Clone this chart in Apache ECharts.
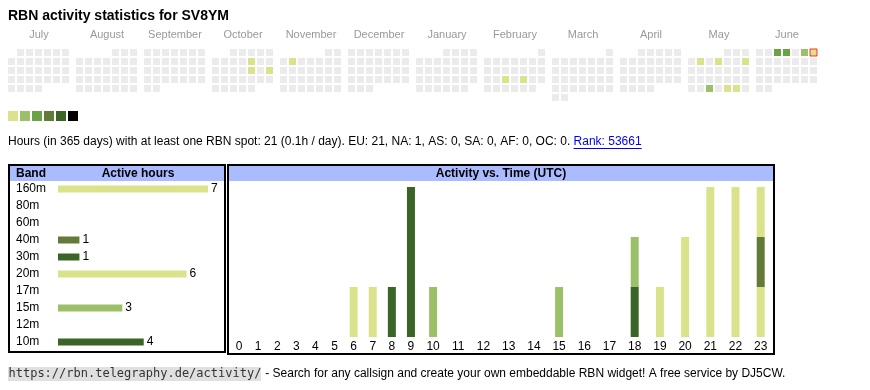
<!DOCTYPE html>
<html><head><meta charset="utf-8">
<script src="https://cdn.jsdelivr.net/npm/echarts@6/dist/echarts.min.js"></script>
<style>html,body{margin:0;padding:0;background:#fff}#c{width:870px;height:390px}</style>
</head><body><div id="c"></div>
<script>
// ---------- data ----------
const monthRanges = ['2024-07','2024-08','2024-09','2024-10','2024-11','2024-12','2025-01','2025-02','2025-03','2025-04','2025-05','2025-06'];
const monthLabels = ['July','August','September','October','November','December','January','February','March','April','May','June'];
const activeDays = ['2024-10-10','2024-10-17','2024-10-19','2024-11-04','2025-02-18','2025-02-20','2025-05-05','2025-05-07','2025-05-10','2025-05-27','2025-05-29','2025-05-30','2025-06-03','2025-06-04','2025-06-06','2025-06-07'];
const activeDayHours = [1,1,1,1,1,1,1,1,1,2,1,1,3,3,2,1];
const todayDate = '2025-06-07';
const levelMin = [1,2,3,5,9,17];
const levelMax = [1,2,4,8,16,null];
const levelColors = ['#dae38b','#9cc06a','#6aa245','#637a39','#3a6527','#000000'];

const bands = ['160m','80m','60m','40m','30m','20m','17m','15m','12m','10m'];
const bandHours = [7,0,0,1,1,6,0,3,0,4];
const bandColors = ['#dae38b','#dae38b','#9cc06a','#637a39','#3a6527','#dae38b','#6aa245','#9cc06a','#6aa245','#3a6527'];

const hourLabels = ['0','1','2','3','4','5','6','7','8','9','10','11','12','13','14','15','16','17','18','19','20','21','22','23'];
const hourly160m = [0,0,0,0,0,0,0,0,0,0,0,0,0,0,0,0,0,0,0,1,1,2,2,1];
const hourly80m  = [0,0,0,0,0,0,0,0,0,0,0,0,0,0,0,0,0,0,0,0,0,0,0,0];
const hourly60m  = [0,0,0,0,0,0,0,0,0,0,0,0,0,0,0,0,0,0,0,0,0,0,0,0];
const hourly40m  = [0,0,0,0,0,0,0,0,0,0,0,0,0,0,0,0,0,0,0,0,0,0,0,1];
const hourly30m  = [0,0,0,0,0,0,0,0,0,0,0,0,0,0,0,0,0,0,1,0,0,0,0,0];
const hourly20m  = [0,0,0,0,0,0,1,1,0,0,0,0,0,0,0,0,0,0,0,0,1,1,1,1];
const hourly17m  = [0,0,0,0,0,0,0,0,0,0,0,0,0,0,0,0,0,0,0,0,0,0,0,0];
const hourly15m  = [0,0,0,0,0,0,0,0,0,0,1,0,0,0,0,1,0,0,1,0,0,0,0,0];
const hourly12m  = [0,0,0,0,0,0,0,0,0,0,0,0,0,0,0,0,0,0,0,0,0,0,0,0];
const hourly10m  = [0,0,0,0,0,0,0,0,1,3,0,0,0,0,0,0,0,0,0,0,0,0,0,0];
const hourlyByBand = [hourly160m,hourly80m,hourly60m,hourly40m,hourly30m,hourly20m,hourly17m,hourly15m,hourly12m,hourly10m];

const titleText = 'RBN activity statistics for SV8YM';
const infoText = 'Hours (in 365 days) with at least one RBN spot: 21 (0.1h / day). EU: 21, NA: 1, AS: 0, SA: 0, AF: 0, OC: 0. ';
const rankText = 'Rank: 53661';
const footerUrl = 'https://rbn.telegraphy.de/activity/';
const footerText = ' - Search for any callsign and create your own embeddable RBN widget! A free service by DJ5CW.';

// ---------- layout ----------
const SANS = '"Liberation Sans", Arial, Helvetica, sans-serif';
const MONO = '"DejaVu Sans Mono", "Liberation Mono", monospace';
const calLeft0 = 7, calTop = 48, monthPitch = 68, cell = 9;
const mctx = document.createElement('canvas').getContext('2d');
function tw(font, s){ mctx.font = font; return mctx.measureText(s).width; }

const chart = echarts.init(document.getElementById('c'), null, {renderer:'canvas'});

const calendars = monthRanges.map((m,i)=>({
  orient:'vertical', range:m, left: calLeft0 + monthPitch*i, top: calTop,
  cellSize:[cell,cell], firstDay:1,
  splitLine:{show:false}, dayLabel:{show:false}, monthLabel:{show:false}, yearLabel:{show:false},
  itemStyle:{color:'#ebebeb', borderColor:'#fff', borderWidth:2}
}));

const series = [];
const heatIdx = [];
monthRanges.forEach((m,i)=>{
  const d = [];
  activeDays.forEach((day,k)=>{ if(day.slice(0,7)===m) d.push([day, activeDayHours[k]]); });
  heatIdx.push(series.length);
  series.push({type:'heatmap', coordinateSystem:'calendar', calendarIndex:i, data:d,
    itemStyle:{borderWidth:0}, emphasis:{disabled:true}});
});
series.push({type:'scatter', coordinateSystem:'calendar', calendarIndex:monthRanges.indexOf(todayDate.slice(0,7)),
  data:[[todayDate,1]], symbol:'rect', symbolSize:7, z:5, silent:true,
  itemStyle:{color:'rgba(0,0,0,0)', borderColor:'#ff0000', borderWidth:1}});

// band bars
series.push({type:'bar', xAxisIndex:0, yAxisIndex:0, barWidth:7, silent:true,
  data: bandHours.map((v,i)=>({value:v, itemStyle:{color:bandColors[i]}})),
  label:{show:true, position:'right', distance:3, color:'#000', fontFamily:SANS, fontSize:12,
    formatter:p=>p.value>0?String(p.value):''}});

// hourly stacked bars: two column groups (1-digit hours are narrower columns)
const splitAt = 10;
bands.forEach((b,bi)=>{
  const arr = hourlyByBand[bi];
  series.push({type:'bar', name:b, xAxisIndex:1, yAxisIndex:1, stack:'a', barWidth:8, silent:true,
    itemStyle:{color:bandColors[bi]}, data: arr.slice(0,splitAt).map(v=>v||'-')});
  series.push({type:'bar', name:b, xAxisIndex:2, yAxisIndex:2, stack:'b', barWidth:8, silent:true,
    itemStyle:{color:bandColors[bi]}, data: arr.slice(splitAt).map(v=>v||'-')});
});

const hourAxisBase = {type:'category', axisLine:{show:false}, axisTick:{show:false}, splitLine:{show:false},
  axisLabel:{color:'#000', fontFamily:SANS, fontSize:12, margin:4, interval:0}};
const hiddenVal = (gi,max)=>({type:'value', gridIndex:gi, min:0, max:max, show:false, splitLine:{show:false}});

// graphics
const g = [];
g.push({type:'text', x:8, y:16, style:{text:titleText, font:'bold 14px '+SANS, fill:'#000', verticalAlign:'middle'}});
monthLabels.forEach((t,i)=>{
  g.push({type:'text', x: calLeft0 + monthPitch*i + 1 + 31, y:35, style:{text:t, font:'11px '+SANS, fill:'#999', align:'center', verticalAlign:'middle'}});
});
const infoFont = '12px '+SANS;
const infoW = tw(infoFont, infoText);
const rankW = tw(infoFont, rankText);
g.push({type:'text', x:8, y:142, style:{text:infoText, font:infoFont, fill:'#000', verticalAlign:'middle'}});
g.push({type:'text', x:8+infoW, y:142, style:{text:rankText, font:infoFont, fill:'#0000ee', verticalAlign:'middle'}});
g.push({type:'line', shape:{x1:8+infoW, y1:148.5, x2:8+infoW+rankW, y2:148.5}, style:{stroke:'#0000ee', lineWidth:1}});
// tables
g.push({type:'rect', shape:{x:10, y:166, width:214, height:15}, style:{fill:'#aabbff'}, z:-1});
g.push({type:'rect', shape:{x:229, y:166, width:544, height:15}, style:{fill:'#aabbff'}, z:-1});
g.push({type:'text', x:16, y:173.5, style:{text:'Band', font:'bold 12px '+SANS, fill:'#000', verticalAlign:'middle'}});
g.push({type:'text', x:138, y:173.5, style:{text:'Active hours', font:'bold 12px '+SANS, fill:'#000', align:'center', verticalAlign:'middle'}});
g.push({type:'text', x:501, y:173.5, style:{text:'Activity vs. Time (UTC)', font:'bold 12px '+SANS, fill:'#000', align:'center', verticalAlign:'middle'}});
g.push({type:'rect', shape:{x:9, y:165, width:216, height:187}, style:{fill:null, stroke:'#000', lineWidth:2}, z:10});
g.push({type:'rect', shape:{x:228, y:165, width:546, height:189}, style:{fill:null, stroke:'#000', lineWidth:2}, z:10});
// footer
const monoFont = '12px '+MONO;
const urlW = tw(monoFont, footerUrl);
g.push({type:'rect', shape:{x:8, y:367, width:urlW, height:14}, style:{fill:'#e0e0e0'}, z:-1});
g.push({type:'text', x:8.5, y:374, style:{text:footerUrl, font:monoFont, fill:'#333', verticalAlign:'middle'}});
g.push({type:'text', x:9+urlW, y:374, style:{text:footerText, font:'12px '+SANS, fill:'#000', verticalAlign:'middle'}});

const option = {
  animation:false,
  backgroundColor:'#fff',
  calendar: calendars,
  visualMap:{type:'piecewise', seriesIndex:heatIdx, orient:'horizontal', left:8, top:111,
    itemWidth:10, itemHeight:10, itemGap:2, itemSymbol:'rect', showLabel:false, selectedMode:false,
    textGap:0, padding:0,
    pieces: levelColors.map((c,i)=> levelMax[i]===null ? {gte:levelMin[i], color:c} : {gte:levelMin[i], lte:levelMax[i], color:c})},
  grid:[
    {left:58, top:180.5, width:150, height:170},
    {left:229.5, top:187, width:191, height:150},
    {left:420.5, top:187, width:352.8, height:150}
  ],
  xAxis:[
    {type:'value', gridIndex:0, min:0, max:7, show:false},
    Object.assign({gridIndex:1, data:hourLabels.slice(0,splitAt)}, hourAxisBase),
    Object.assign({gridIndex:2, data:hourLabels.slice(splitAt)}, hourAxisBase)
  ],
  yAxis:[
    {type:'category', gridIndex:0, data:bands, inverse:true, axisLine:{show:false}, axisTick:{show:false},
      axisLabel:{color:'#000', fontFamily:SANS, fontSize:12, align:'left', margin:42}},
    hiddenVal(1,3), hiddenVal(2,3)
  ],
  graphic: g,
  series: series
};
chart.setOption(option);
</script></body></html>
